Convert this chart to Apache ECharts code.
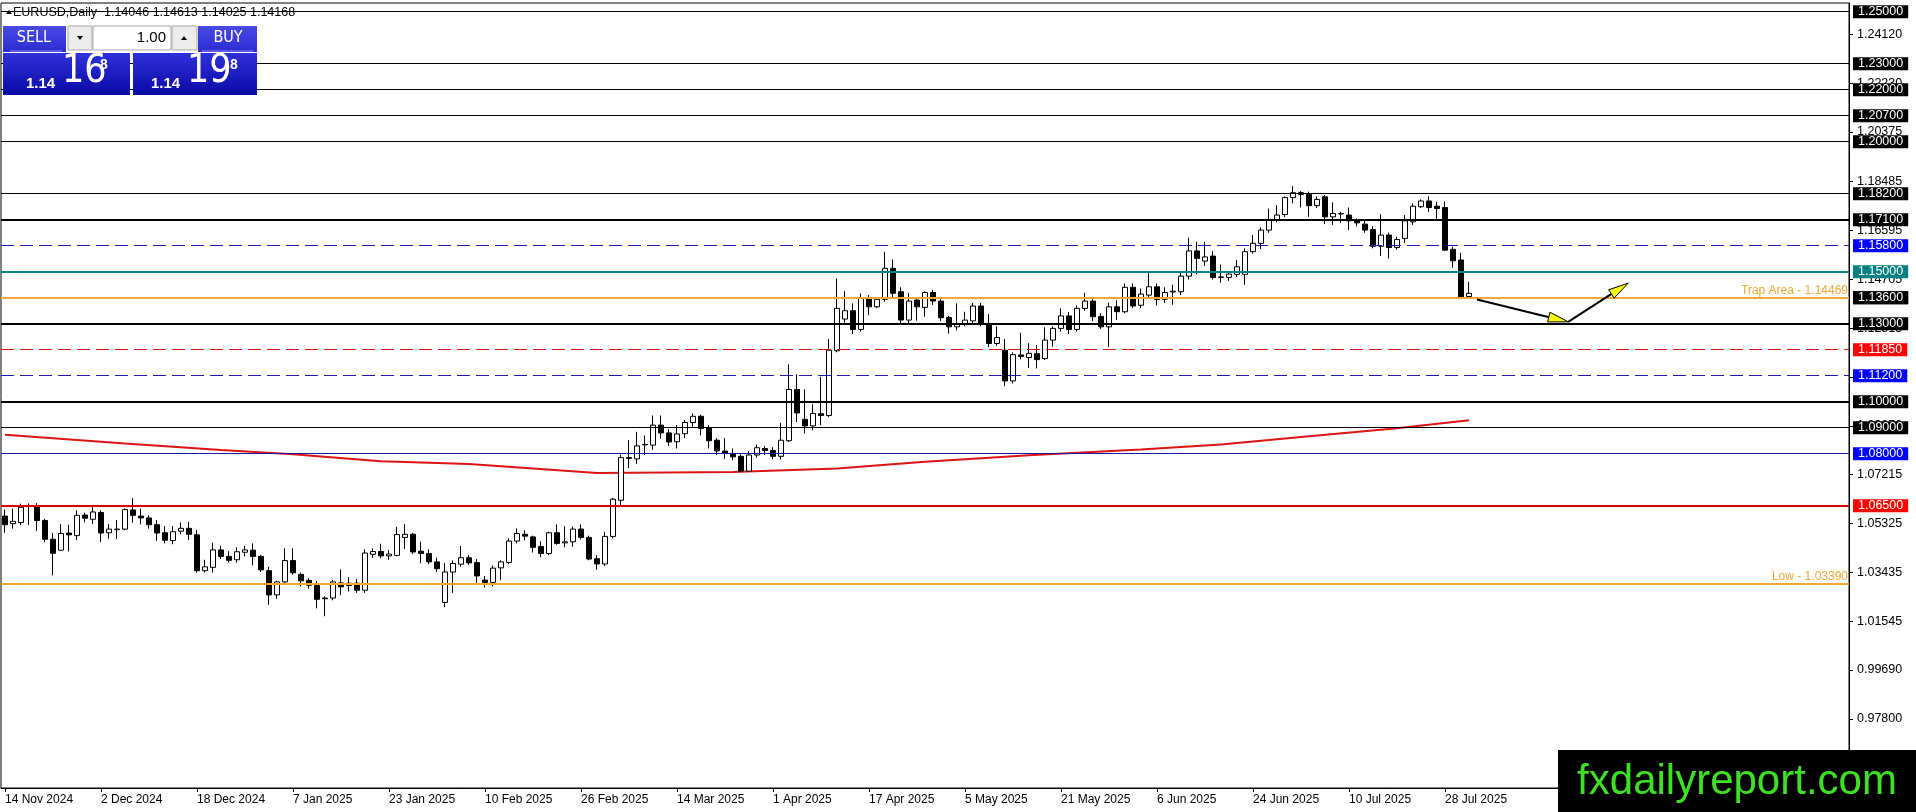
<!DOCTYPE html>
<html lang="en">
<head>
<meta charset="UTF-8">
<title>EURUSD Daily</title>
<script src="https://cdn.jsdelivr.net/npm/echarts@6.0.0/dist/echarts.min.js"></script>
<style>
  html, body { margin: 0; padding: 0; background: #fff; }
  #chart { width: 1916px; height: 812px; }
</style>
</head>
<body>
<div id="chart"></div>
<script>
// daily bars, 12 per row (one row per date label)
var dates = [
  '14 Nov 2024','15 Nov 2024','18 Nov 2024','19 Nov 2024','20 Nov 2024','21 Nov 2024','22 Nov 2024','25 Nov 2024','26 Nov 2024','27 Nov 2024','28 Nov 2024','29 Nov 2024',
  '2 Dec 2024','3 Dec 2024','4 Dec 2024','5 Dec 2024','6 Dec 2024','9 Dec 2024','10 Dec 2024','11 Dec 2024','12 Dec 2024','13 Dec 2024','16 Dec 2024','17 Dec 2024',
  '18 Dec 2024','19 Dec 2024','20 Dec 2024','23 Dec 2024','24 Dec 2024','26 Dec 2024','27 Dec 2024','30 Dec 2024','31 Dec 2024','2 Jan 2025','3 Jan 2025','6 Jan 2025',
  '7 Jan 2025','8 Jan 2025','9 Jan 2025','10 Jan 2025','13 Jan 2025','14 Jan 2025','15 Jan 2025','16 Jan 2025','17 Jan 2025','20 Jan 2025','21 Jan 2025','22 Jan 2025',
  '23 Jan 2025','24 Jan 2025','27 Jan 2025','28 Jan 2025','29 Jan 2025','30 Jan 2025','31 Jan 2025','3 Feb 2025','4 Feb 2025','5 Feb 2025','6 Feb 2025','7 Feb 2025',
  '10 Feb 2025','11 Feb 2025','12 Feb 2025','13 Feb 2025','14 Feb 2025','17 Feb 2025','18 Feb 2025','19 Feb 2025','20 Feb 2025','21 Feb 2025','24 Feb 2025','25 Feb 2025',
  '26 Feb 2025','27 Feb 2025','28 Feb 2025','3 Mar 2025','4 Mar 2025','5 Mar 2025','6 Mar 2025','7 Mar 2025','10 Mar 2025','11 Mar 2025','12 Mar 2025','13 Mar 2025',
  '14 Mar 2025','17 Mar 2025','18 Mar 2025','19 Mar 2025','20 Mar 2025','21 Mar 2025','24 Mar 2025','25 Mar 2025','26 Mar 2025','27 Mar 2025','28 Mar 2025','31 Mar 2025',
  '1 Apr 2025','2 Apr 2025','3 Apr 2025','4 Apr 2025','7 Apr 2025','8 Apr 2025','9 Apr 2025','10 Apr 2025','11 Apr 2025','14 Apr 2025','15 Apr 2025','16 Apr 2025',
  '17 Apr 2025','18 Apr 2025','21 Apr 2025','22 Apr 2025','23 Apr 2025','24 Apr 2025','25 Apr 2025','28 Apr 2025','29 Apr 2025','30 Apr 2025','1 May 2025','2 May 2025',
  '5 May 2025','6 May 2025','7 May 2025','8 May 2025','9 May 2025','12 May 2025','13 May 2025','14 May 2025','15 May 2025','16 May 2025','19 May 2025','20 May 2025',
  '21 May 2025','22 May 2025','23 May 2025','26 May 2025','27 May 2025','28 May 2025','29 May 2025','30 May 2025','2 Jun 2025','3 Jun 2025','4 Jun 2025','5 Jun 2025',
  '6 Jun 2025','9 Jun 2025','10 Jun 2025','11 Jun 2025','12 Jun 2025','13 Jun 2025','16 Jun 2025','17 Jun 2025','18 Jun 2025','19 Jun 2025','20 Jun 2025','23 Jun 2025',
  '24 Jun 2025','25 Jun 2025','26 Jun 2025','27 Jun 2025','30 Jun 2025','1 Jul 2025','2 Jul 2025','3 Jul 2025','4 Jul 2025','7 Jul 2025','8 Jul 2025','9 Jul 2025',
  '10 Jul 2025','11 Jul 2025','14 Jul 2025','15 Jul 2025','16 Jul 2025','17 Jul 2025','18 Jul 2025','21 Jul 2025','22 Jul 2025','23 Jul 2025','24 Jul 2025','25 Jul 2025',
  '28 Jul 2025','29 Jul 2025','30 Jul 2025','31 Jul 2025'
];

var opens = [
  1.0560,1.0531,1.0535,1.0598,1.0596,1.0543,1.0471,1.0429,1.0495,1.0485,1.0564,1.0548,
  1.0574,1.0496,1.0508,1.0510,1.0584,1.0560,1.0553,1.0527,1.0496,1.0466,1.0502,1.0513,
  1.0488,1.0350,1.0363,1.0430,1.0405,1.0392,1.0421,1.0429,1.0405,1.0350,1.0257,1.0307,
  1.0389,1.0336,1.0313,1.0294,1.0242,1.0245,1.0303,1.0293,1.0302,1.0275,1.0413,1.0424,
  1.0407,1.0409,1.0478,1.0490,1.0425,1.0416,1.0384,1.0228,1.0345,1.0375,1.0400,1.0381,
  1.0314,1.0305,1.0361,1.0382,1.0464,1.0490,1.0480,1.0443,1.0416,1.0496,1.0457,1.0461,
  1.0510,1.0478,1.0396,1.0376,1.0482,1.0621,1.0785,1.0780,1.0834,1.0833,1.0910,1.0880,
  1.0846,1.0877,1.0920,1.0944,1.0900,1.0852,1.0810,1.0798,1.0790,1.0733,1.0795,1.0820,
  1.0812,1.0790,1.0850,1.1047,1.0932,1.0907,1.0954,1.0947,1.1196,1.1318,1.1350,1.1278,
  1.1397,1.1365,1.1394,1.1513,1.1423,1.1314,1.1391,1.1363,1.1420,1.1387,1.1324,1.1288,
  1.1298,1.1311,1.1368,1.1300,1.1224,1.1198,1.1080,1.1180,1.1170,1.1185,1.1166,1.1237,
  1.1282,1.1330,1.1278,1.1359,1.1387,1.1328,1.1288,1.1365,1.1346,1.1440,1.1371,1.1410,
  1.1442,1.1394,1.1422,1.1423,1.1483,1.1580,1.1541,1.1560,1.1478,1.1478,1.1490,1.1490,
  1.1577,1.1609,1.1660,1.1699,1.1720,1.1785,1.1804,1.1798,1.1754,1.1788,1.1711,1.1724,
  1.1718,1.1698,1.1683,1.1662,1.1598,1.1641,1.1593,1.1628,1.1692,1.1750,1.1772,1.1752,
  1.1747,1.1586,1.1545,1.14046
];

var highs = [
  1.0585,1.0589,1.0608,1.0609,1.0610,1.0550,1.0495,1.0529,1.0527,1.0582,1.0573,1.0596,
  1.0582,1.0530,1.0545,1.0590,1.0629,1.0589,1.0563,1.0545,1.0522,1.0522,1.0536,1.0538,
  1.0507,1.0392,1.0458,1.0446,1.0425,1.0440,1.0445,1.0455,1.0410,1.0365,1.0312,1.0436,
  1.0436,1.0343,1.0322,1.0310,1.0252,1.0315,1.0355,1.0325,1.0319,1.0432,1.0436,1.0454,
  1.0430,1.0519,1.0529,1.0495,1.0462,1.0432,1.0400,1.0380,1.0390,1.0445,1.0410,1.0395,
  1.0330,1.0370,1.0390,1.0474,1.0513,1.0505,1.0485,1.0463,1.0500,1.0528,1.0521,1.0520,
  1.0528,1.0485,1.0410,1.0500,1.0630,1.0797,1.0852,1.0884,1.0870,1.0947,1.0947,1.0895,
  1.0910,1.0930,1.0955,1.0950,1.0910,1.0860,1.0860,1.0820,1.0800,1.0810,1.0835,1.0830,
  1.0825,1.0919,1.1144,1.1105,1.1047,1.0990,1.1096,1.1241,1.1474,1.1425,1.1378,1.1416,
  1.1410,1.1400,1.1577,1.1547,1.1440,1.1418,1.1400,1.1425,1.1430,1.1395,1.1330,1.1378,
  1.1346,1.1380,1.1380,1.1337,1.1290,1.1241,1.1190,1.1265,1.1225,1.1218,1.1286,1.1290,
  1.1359,1.1345,1.1370,1.1419,1.1395,1.1340,1.1381,1.1390,1.1455,1.1455,1.1435,1.1496,
  1.1455,1.1440,1.1450,1.1495,1.1631,1.1615,1.1615,1.1580,1.1528,1.1500,1.1545,1.1590,
  1.1641,1.1670,1.1743,1.1756,1.1790,1.1829,1.1810,1.1808,1.1790,1.1795,1.1767,1.1730,
  1.1747,1.1705,1.1695,1.1675,1.1721,1.1650,1.1635,1.1718,1.1763,1.1778,1.1790,1.1769,
  1.1770,1.1596,1.1573,1.14613
];

var lows = [
  1.0496,1.0512,1.0525,1.0526,1.0503,1.0460,1.0332,1.0427,1.0424,1.0468,1.0536,1.0530,
  1.0460,1.0473,1.0472,1.0505,1.0535,1.0528,1.0512,1.0465,1.0455,1.0452,1.0490,1.0468,
  1.0343,1.0343,1.0343,1.0395,1.0382,1.0381,1.0405,1.0371,1.0345,1.0219,1.0242,1.0300,
  1.0335,1.0290,1.0280,1.0205,1.0175,1.0236,1.0256,1.0270,1.0265,1.0265,1.0400,1.0398,
  1.0392,1.0405,1.0433,1.0414,1.0379,1.0375,1.0345,1.0210,1.0265,1.0365,1.0372,1.0301,
  1.0285,1.0290,1.0313,1.0375,1.0455,1.0467,1.0420,1.0402,1.0410,1.0450,1.0440,1.0443,
  1.0470,1.0390,1.0354,1.0368,1.0475,1.0596,1.0745,1.0760,1.0795,1.0815,1.0858,1.0830,
  1.0820,1.0860,1.0900,1.0870,1.0820,1.0796,1.0780,1.0775,1.0730,1.0730,1.0785,1.0795,
  1.0778,1.0778,1.0845,1.0922,1.0878,1.0890,1.0910,1.0940,1.1190,1.1300,1.1260,1.1270,
  1.1333,1.1360,1.1385,1.1400,1.1300,1.1300,1.1312,1.1327,1.1372,1.1310,1.1262,1.1275,
  1.1290,1.1300,1.1290,1.1210,1.1215,1.1060,1.1070,1.1163,1.1130,1.1128,1.1160,1.1212,
  1.1270,1.1260,1.1270,1.1350,1.1310,1.1280,1.1210,1.1314,1.1340,1.1360,1.1360,1.1400,
  1.1370,1.1380,1.1373,1.1410,1.1470,1.1490,1.1522,1.1470,1.1458,1.1465,1.1480,1.1450,
  1.1570,1.1587,1.1650,1.1690,1.1710,1.1763,1.1747,1.1711,1.1745,1.1683,1.1680,1.1688,
  1.1660,1.1675,1.1650,1.1590,1.1560,1.1551,1.1585,1.1611,1.1680,1.1745,1.1730,1.1700,
  1.1580,1.1516,1.1400,1.14025
];

var closes = [
  1.0527,1.0540,1.0594,1.0597,1.0543,1.0471,1.0417,1.0493,1.0488,1.0563,1.0552,1.0576,
  1.0495,1.0510,1.0510,1.0585,1.0563,1.0553,1.0527,1.0495,1.0467,1.0500,1.0513,1.0490,
  1.0350,1.0365,1.0430,1.0405,1.0390,1.0423,1.0430,1.0405,1.0353,1.0257,1.0307,1.0389,
  1.0342,1.0311,1.0294,1.0240,1.0245,1.0307,1.0288,1.0302,1.0275,1.0418,1.0424,1.0407,
  1.0414,1.0489,1.0490,1.0422,1.0416,1.0384,1.0358,1.0345,1.0378,1.0400,1.0380,1.0330,
  1.0305,1.0360,1.0384,1.0464,1.0493,1.0483,1.0440,1.0416,1.0496,1.0455,1.0461,1.0510,
  1.0478,1.0395,1.0376,1.0482,1.0625,1.0785,1.0782,1.0830,1.0836,1.0910,1.0880,1.0845,
  1.0876,1.0920,1.0944,1.0897,1.0850,1.0811,1.0801,1.0788,1.0733,1.0795,1.0823,1.0812,
  1.0790,1.0852,1.1047,1.0957,1.0907,1.0955,1.0947,1.1198,1.1359,1.1350,1.1278,1.1397,
  1.1365,1.1394,1.1513,1.1417,1.1314,1.1387,1.1365,1.1420,1.1387,1.1323,1.1288,1.1298,
  1.1314,1.1368,1.1298,1.1224,1.1247,1.1080,1.1181,1.1174,1.1186,1.1162,1.1237,1.1282,
  1.1330,1.1278,1.1359,1.1387,1.1327,1.1288,1.1365,1.1346,1.1440,1.1368,1.1414,1.1442,
  1.1393,1.1420,1.1425,1.1483,1.1580,1.1551,1.1557,1.1478,1.1480,1.1491,1.1519,1.1577,
  1.1609,1.1660,1.1699,1.1718,1.1785,1.1804,1.1797,1.1754,1.1778,1.1711,1.1724,1.1722,
  1.1696,1.1688,1.1660,1.1598,1.1641,1.1593,1.1624,1.1696,1.1752,1.1772,1.1747,1.1743,
  1.1583,1.1542,1.1401,1.14168
];

// moving average, read at a few bars
var maBars = [0, 15, 27, 36, 47, 58, 74, 91, 104, 115, 128, 142, 152, 162, 174, 183];
var maVals = [1.0873, 1.0839, 1.0814, 1.0798, 1.0771, 1.0760, 1.0726, 1.0730, 1.0743, 1.0769, 1.0794, 1.0816, 1.0835, 1.0864, 1.0898, 1.0929];

// horizontal levels with price boxes
var levels = [1.25000, 1.23000, 1.22000, 1.20700, 1.20000, 1.18200, 1.17100, 1.15800, 1.15000, 1.14168,
              1.13600, 1.13000, 1.11850, 1.11200, 1.10000, 1.09000, 1.08000, 1.06500];
var trapArea = 1.14469;
var lowLevel = 1.03390;

// projected path (bar index, price)
var arrowBars = [184.0, 195.4, 202.9];
var arrowVals = [1.13934, 1.13072, 1.14561];

// right axis grid labels
var yTicks = [1.24120, 1.22230, 1.20375, 1.18485, 1.16595, 1.14705, 1.12815, 1.10960, 1.09070,
              1.07215, 1.05325, 1.03435, 1.01545, 0.99690, 0.97800];

var N = 231; // slots on the x axis incl. empty space on the right
var cats = dates.slice();
while (cats.length < N) cats.push('');

var candles = dates.map(function (d, i) { return [opens[i], closes[i], lows[i], highs[i]]; });
var maData = maBars.map(function (b, i) { return [b, maVals[i]]; });
var arrowSegs = [];
for (var i = 0; i + 1 < arrowBars.length; i++) {
  arrowSegs.push([arrowBars[i], arrowVals[i], arrowBars[i + 1], arrowVals[i + 1]]);
}

var K = {
  thin:     { color: '#000', width: 1, type: 'solid', box: '#000' },
  thick:    { color: '#000', width: 2, type: 'solid', box: '#000' },
  blueDash: { color: '#1c1cb4', width: 1, type: [13, 6], box: '#0000ff' },
  teal:     { color: '#0f8080', width: 2, type: 'solid', box: '#008080' },
  gray:     { color: '#c4c4c4', width: 1, type: 'solid', box: '#000' },
  redDash:  { color: '#e01414', width: 1, type: [13, 6], box: '#ff0000' },
  blue:     { color: '#1a1aa0', width: 1, type: 'solid', box: '#0000ff' },
  red:      { color: '#e00000', width: 2, type: 'solid', box: '#ff0000' }
};
var levelKinds = ['thin', 'thin', 'thin', 'thin', 'thin', 'thin', 'thick', 'blueDash', 'teal', 'gray',
                  'thick', 'thick', 'redDash', 'blueDash', 'thick', 'thin', 'blue', 'red'];

var FONT = '"Liberation Sans", Arial, sans-serif';
var NARROW = '"Liberation Sans Narrow", "DejaVu Sans Condensed", sans-serif';
var ORANGE = '#f2a736';

var markData = levels.map(function (v, i) {
  var k = K[levelKinds[i]];
  return {
    yAxis: v,
    lineStyle: { color: k.color, width: k.width, type: k.type },
    label: {
      show: true, position: 'end', distance: 4,
      formatter: v.toFixed(5),
      backgroundColor: k.box, color: '#fff',
      padding: [1, 5, 0, 5], lineHeight: 12,
      fontSize: 12.5, fontFamily: FONT
    }
  };
});
markData.push({
  yAxis: trapArea,
  lineStyle: { color: ORANGE, width: 2, type: 'solid' },
  label: { show: true, position: 'insideEndTop', distance: 1, formatter: 'Trap Area - ' + trapArea.toFixed(5),
           color: ORANGE, fontSize: 12, fontFamily: FONT }
});
markData.push({
  yAxis: lowLevel,
  lineStyle: { color: ORANGE, width: 2, type: 'solid' },
  label: { show: true, position: 'insideEndTop', distance: 1, formatter: 'Low - ' + lowLevel.toFixed(5),
           color: ORANGE, fontSize: 12, fontFamily: FONT }
});

var chart = echarts.init(document.getElementById('chart'));

var boxTop = { type: 'linear', x: 0, y: 0, x2: 0, y2: 1, colorStops: [{ offset: 0, color: '#4a4ae6' }, { offset: 1, color: '#2c2cd2' }] };
var boxLow = { type: 'linear', x: 0, y: 0, x2: 0, y2: 1, colorStops: [{ offset: 0, color: '#3030da' }, { offset: 1, color: '#0a0aa6' }] };

var option = {
  animation: false,
  backgroundColor: '#fff',
  grid: { left: 1, right: 67, top: 3, bottom: 24, show: true, borderColor: '#000', borderWidth: 1 },
  xAxis: [
    {
      type: 'category', data: cats, boundaryGap: true,
      axisLine: { show: true, onZero: false, lineStyle: { color: '#000', width: 1 } },
      axisTick: { show: true, alignWithLabel: true, length: 4, lineStyle: { color: '#000' },
                  interval: function (idx, val) { return idx % 12 === 0 && val !== ''; } },
      axisLabel: { show: true, align: 'left', margin: 6, color: '#000', fontSize: 12, fontFamily: FONT,
                   interval: function (idx, val) { return idx % 12 === 0 && val !== ''; } },
      splitLine: { show: false }
    },
    { type: 'value', min: -0.5, max: N - 0.5, show: false, position: 'top',
      axisLine: { show: false, onZero: false }, axisTick: { show: false }, axisLabel: { show: false },
      splitLine: { show: false } }
  ],
  yAxis: {
    type: 'value', position: 'right', min: 0.95143, max: 1.25335,
    axisLine: { show: true, onZero: false, lineStyle: { color: '#000' } },
    axisTick: { show: true, length: 4, lineStyle: { color: '#000' }, customValues: yTicks },
    axisLabel: { show: true, margin: 8, color: '#000', fontSize: 12.5, fontFamily: FONT, customValues: yTicks,
                 formatter: function (v) { return v.toFixed(5); } },
    splitLine: { show: false }
  },
  series: [
    {
      type: 'line', xAxisIndex: 0, data: [], z: 1, silent: true,
      markLine: { symbol: ['none', 'none'], silent: true, animation: false, data: markData }
    },
    {
      type: 'line', name: 'MA', xAxisIndex: 1, data: maData, z: 2, showSymbol: false, silent: true,
      lineStyle: { color: '#dc1414', width: 2 }
    },
    {
      type: 'candlestick', xAxisIndex: 0, data: candles, z: 3, barWidth: 5, silent: true,
      itemStyle: { color: '#fff', color0: '#000', borderColor: '#000', borderColor0: '#000', borderWidth: 1 }
    },
    {
      type: 'custom', xAxisIndex: 1, data: arrowSegs, z: 6, silent: true,
      encode: { x: [0, 2], y: [1, 3] },
      renderItem: function (params, api) {
        var a = api.coord([api.value(0), api.value(1)]);
        var b = api.coord([api.value(2), api.value(3)]);
        var dx = b[0] - a[0], dy = b[1] - a[1];
        var len = Math.sqrt(dx * dx + dy * dy);
        var ux = dx / len, uy = dy / len, hl = 20, hw = 5;
        var bx = b[0] - ux * hl, by = b[1] - uy * hl;
        return {
          type: 'group',
          children: [
            { type: 'line', shape: { x1: a[0], y1: a[1], x2: b[0] - ux * 6, y2: b[1] - uy * 6 },
              style: { stroke: '#000', lineWidth: 2 } },
            { type: 'polygon',
              shape: { points: [[b[0], b[1]], [bx - uy * hw, by + ux * hw], [bx + uy * hw, by - ux * hw]] },
              style: { fill: '#f6f60c', stroke: '#000', lineWidth: 1 } }
          ]
        };
      }
    }
  ],
  graphic: [
    // symbol header
    { type: 'polygon', z: 50, shape: { points: [[6, 14], [9, 10], [12, 14]] }, style: { fill: '#000' } },
    { type: 'text', z: 50, x: 13, y: 13,
      style: { text: 'EURUSD,Daily  1.14046 1.14613 1.14025 1.14168', font: '12.5px ' + FONT, fill: '#000', verticalAlign: 'middle' } },

    // one click trading panel
    { type: 'rect', z: 50, shape: { x: 3, y: 26, width: 63, height: 26 }, style: { fill: boxTop } },
    { type: 'line', z: 51, shape: { x1: 10, y1: 51, x2: 62, y2: 51 }, style: { stroke: '#8a8af2', lineWidth: 1 } },
    { type: 'text', z: 51, x: 34, y: 38, style: { text: 'SELL', font: '16px ' + NARROW, fill: '#fff', align: 'center', verticalAlign: 'middle' } },

    { type: 'rect', z: 50, shape: { x: 68, y: 26, width: 24, height: 24 }, style: { fill: '#ececec', stroke: '#a8a8a8', lineWidth: 1 } },
    { type: 'polygon', z: 51, shape: { points: [[77, 36], [83, 36], [80, 40]] }, style: { fill: '#000' } },
    { type: 'rect', z: 50, shape: { x: 93, y: 26, width: 78, height: 24 }, style: { fill: '#fff', stroke: '#a8a8a8', lineWidth: 1 } },
    { type: 'text', z: 51, x: 166, y: 38, style: { text: '1.00', font: '15px ' + FONT, fill: '#000', align: 'right', verticalAlign: 'middle' } },
    { type: 'rect', z: 50, shape: { x: 172, y: 26, width: 25, height: 24 }, style: { fill: '#ececec', stroke: '#a8a8a8', lineWidth: 1 } },
    { type: 'polygon', z: 51, shape: { points: [[181, 40], [187, 40], [184, 36]] }, style: { fill: '#000' } },

    { type: 'rect', z: 50, shape: { x: 198, y: 26, width: 59, height: 26 }, style: { fill: boxTop } },
    { type: 'line', z: 51, shape: { x1: 202, y1: 51, x2: 253, y2: 51 }, style: { stroke: '#8a8af2', lineWidth: 1 } },
    { type: 'text', z: 51, x: 228, y: 38, style: { text: 'BUY', font: '16px ' + NARROW, fill: '#fff', align: 'center', verticalAlign: 'middle' } },

    { type: 'rect', z: 50, shape: { x: 3, y: 53, width: 127, height: 42 }, style: { fill: boxLow } },
    { type: 'text', z: 51, x: 26, y: 76, style: { text: '1.14', font: 'bold 15px ' + FONT, fill: '#fff', verticalAlign: 'top' } },
    { type: 'text', z: 51, x: 62, y: 52, style: { text: '16', font: '39px ' + NARROW, fill: '#fff', verticalAlign: 'top' } },
    { type: 'text', z: 51, x: 100, y: 58, style: { text: '8', font: 'bold 14px ' + FONT, fill: '#fff', verticalAlign: 'top' } },

    { type: 'rect', z: 50, shape: { x: 133, y: 53, width: 124, height: 42 }, style: { fill: boxLow } },
    { type: 'text', z: 51, x: 151, y: 76, style: { text: '1.14', font: 'bold 15px ' + FONT, fill: '#fff', verticalAlign: 'top' } },
    { type: 'text', z: 51, x: 187, y: 52, style: { text: '19', font: '39px ' + NARROW, fill: '#fff', verticalAlign: 'top' } },
    { type: 'text', z: 51, x: 230, y: 58, style: { text: '8', font: 'bold 14px ' + FONT, fill: '#fff', verticalAlign: 'top' } },

    // watermark
    { type: 'rect', z: 60, shape: { x: 1558, y: 750, width: 358, height: 62 }, style: { fill: '#000' } },
    { type: 'text', z: 61, x: 1737, y: 782,
      style: { text: 'fxdailyreport.com', font: '42px ' + FONT, fill: '#3ee024', align: 'center', verticalAlign: 'middle' } }
  ]
};

chart.setOption(option);
</script>
</body>
</html>
